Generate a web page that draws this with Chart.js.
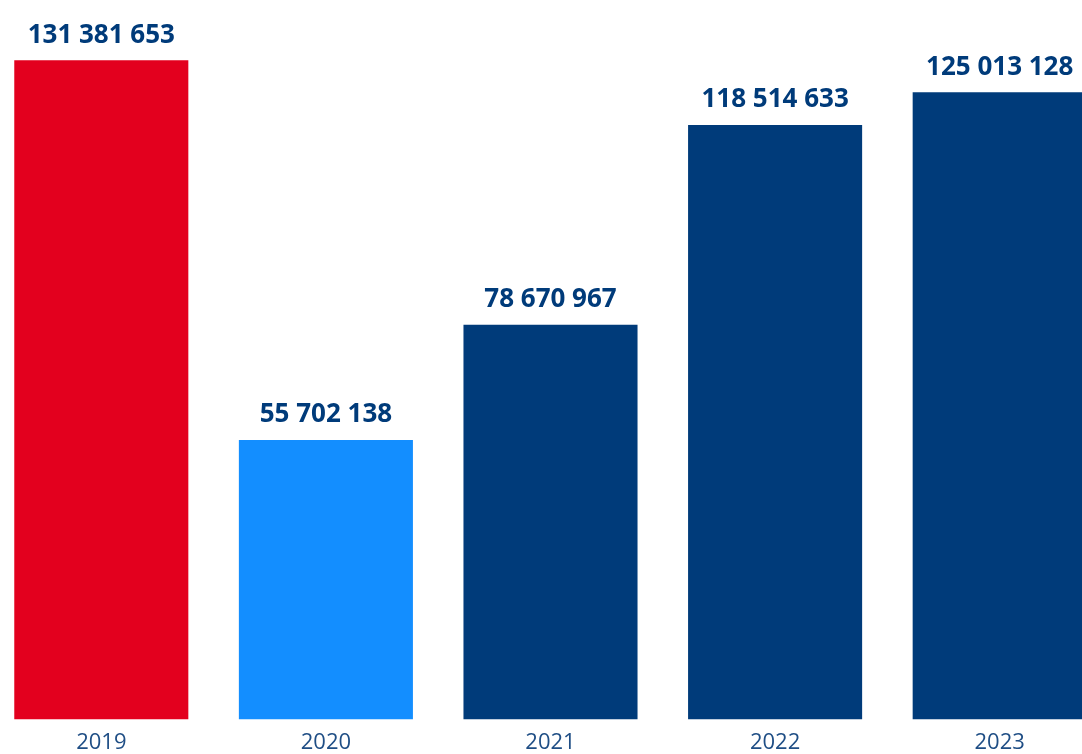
<!DOCTYPE html>
<html>
<head>
<meta charset="utf-8">
<script src="https://cdn.jsdelivr.net/npm/chart.js@4"></script>
<style>
  html, body { margin: 0; padding: 0; background: #fff; overflow: hidden; }
  #wrap { position: absolute; left: -11px; top: 0; width: 1123px; height: 766px; }
</style>
</head>
<body>
<div id="wrap"><canvas id="chart"></canvas></div>
<script>
const years = ["2019", "2020", "2021", "2022", "2023"];
const passengers = [131381653, 55702138, 78670967, 118514633, 125013128];
const barColors = ["#E3001E", "#138EFF", "#003B7A", "#003B7A", "#003B7A"];

const fmt = (v) => String(v).replace(/\B(?=(\d{3})+(?!\d))/g, " ");

// value labels above each bar
const valueLabels = {
  id: "valueLabels",
  afterDatasetsDraw(chart) {
    const ctx = chart.ctx;
    const meta = chart.getDatasetMeta(0);
    ctx.save();
    ctx.font = "bold 26px 'Open Sans'";
    ctx.fillStyle = "#003B7A";
    ctx.textAlign = "center";
    ctx.textBaseline = "bottom";
    meta.data.forEach((bar, i) => {
      ctx.fillText(fmt(passengers[i]), bar.x, bar.y - 12);
    });
    ctx.restore();
  },
};

new Chart(document.getElementById("chart"), {
  type: "bar",
  data: {
    labels: years,
    datasets: [
      {
        data: passengers,
        backgroundColor: barColors,
        categoryPercentage: 1,
        barPercentage: 0.775,
      },
    ],
  },
  options: {
    responsive: true,
    maintainAspectRatio: false,
    animation: false,
    layout: { padding: 0 },
    plugins: {
      legend: { display: false },
      tooltip: { enabled: false },
    },
    scales: {
      x: {
        grid: { display: false, drawTicks: false },
        border: { display: false },
        ticks: {
          color: "#1F4E85",
          padding: 10,
          font: { family: "Open Sans", size: 22 },
        },
      },
      y: {
        display: false,
        beginAtZero: true,
        max: 143400000,
      },
    },
  },
  plugins: [valueLabels],
});
</script>
</body>
</html>
